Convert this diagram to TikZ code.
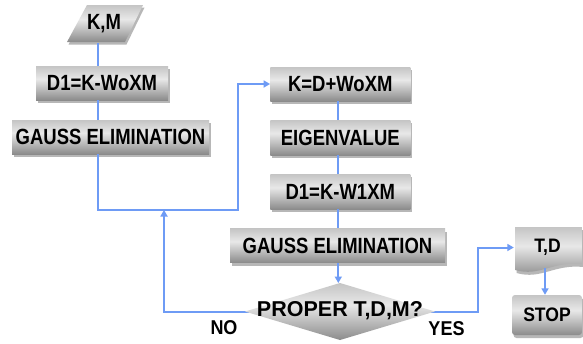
\documentclass[tikz,border=0pt]{standalone}
\usepackage{fontspec}
\setmainfont{Liberation Sans}
\newfontfamily\labfont[FakeStretch=0.84]{Liberation Sans}
\newfontfamily\endfont[FakeStretch=0.9]{Liberation Sans}
\usetikzlibrary{arrows.meta,shadows}

\definecolor{flow}{HTML}{6E9BF5}
% metallic look: dark rim at top and bottom, bright band a little above the middle
\pgfdeclareverticalshading{metal}{100bp}{%
  color(0bp)=(black!74); color(16bp)=(black!56); color(56bp)=(black!9);
  color(82bp)=(black!28); color(100bp)=(black!56)}

\tikzset{
  boxfont/.style={font=\labfont\bfseries\fontsize{22}{24}\selectfont},
  endfont/.style={font=\endfont\bfseries\fontsize{19.5}{21}\selectfont},
  procbox/.style={rectangle, inner sep=0pt, shade, shading=metal, boxfont,
    drop shadow={shadow xshift=1.5pt, shadow yshift=-3pt, fill=black!35, opacity=.8}},
  textonly/.style={inner sep=0pt, boxfont},
  castshadow/.style={fill=black!35, opacity=.8},
  link/.style={draw=flow, line width=2pt},
  arr/.style={link, -{Triangle[length=6.5pt,width=7pt]}},
  answer/.style={font=\endfont\bfseries\fontsize{20}{22}\selectfont}
}

\begin{document}
\begin{tikzpicture}[x=1pt, y=-1pt]
\useasboundingbox (0,0) rectangle (583,343);
\fill[white] (0,0) rectangle (583,343);

% column guides and bends of the connectors
\coordinate (colA) at (98,0);
\coordinate (colB) at (338.3,0);
\coordinate (colC) at (545,0);
\coordinate (loopTurn) at (238,210);
\coordinate (noJoin) at (164,210);
\coordinate (yesTurn) at (478,311.5);

% decision diamond corners
\coordinate (decW) at (245,311.5);
\coordinate (decN) at (340,283);
\coordinate (decE) at (435,311.5);
\coordinate (decS) at (340,340);

% process boxes
\node[procbox, minimum width=132, minimum height=34] (d1) at (102,83) {D1=K-WoXM};
\node[procbox, minimum width=197, minimum height=34] (g1) at (110.5,137) {GAUSS ELIMINATION};
\node[procbox, minimum width=140, minimum height=34] (kd) at (340.3,84) {K=D+WoXM};
\node[procbox, minimum width=140, minimum height=35] (ev) at (340.3,137.5) {EIGENVALUE};
\node[procbox, minimum width=140, minimum height=35] (d2) at (340.3,191.7) {D1=K-W1XM};
\node[procbox, minimum width=215, minimum height=34] (g2) at (337.5,245.5) {GAUSS ELIMINATION};
\node[procbox, endfont, minimum width=70, minimum height=40, rounded corners=3pt] (stop) at (547,315) {STOP};

% input parallelogram
\fill[castshadow, xshift=1.5pt, yshift=-2.5pt] (87,5) -- (143,5) -- (125,42) -- (67,42) -- cycle;
\shade[shading=metal] (87,5) -- (143,5) -- (125,42) -- (67,42) -- cycle;
\node[textonly, minimum height=37] (km) at (104,24) {K,M};

% output document shape
\fill[castshadow, xshift=1.5pt, yshift=-3pt] (515,227) -- (582,227) -- (582,264)
  .. controls (552,261) and (540,277) .. (515,270) -- cycle;
\shade[shading=metal] (515,227) -- (582,227) -- (582,264)
  .. controls (552,261) and (540,277) .. (515,270) -- cycle;
\node[textonly, endfont, minimum width=67, minimum height=41] (td) at (547.5,247.5) {T,D};

% connectors
\draw[link] (km.south -| colA) -- (d1.north -| colA);
\draw[link] (d1.south -| colA) -- (g1.north -| colA);
\draw[arr] (g1.south -| colA) |- (loopTurn) |- (kd.west);
\draw[link] (kd.south -| colB) -- (ev.north -| colB);
\draw[link] (ev.south -| colB) -- (d2.north -| colB);
\draw[link] (d2.south -| colB) -- (g2.north -| colB);
\draw[arr] (g2.south -| colB) -- (decN -| colB);
\draw[arr] ([xshift=5pt]decW) -| (noJoin);
\draw[arr] ([xshift=-5pt]decE) -| (yesTurn) |- (td.west);
\draw[arr] (td.south -| colC) -- (stop.north -| colC);

% decision
\shade[shading=metal] (decW) -- (decN) -- (decE) -- (decS) -- cycle;
\node[inner sep=0pt, font=\bfseries\fontsize{21.5}{23}\selectfont] (dec) at (340,310.5) {PROPER T,D,M?};

% branch labels
\node[answer] (no) at (224,328) {NO};
\node[answer] (yes) at (446.5,329) {YES};
\end{tikzpicture}
\end{document}
